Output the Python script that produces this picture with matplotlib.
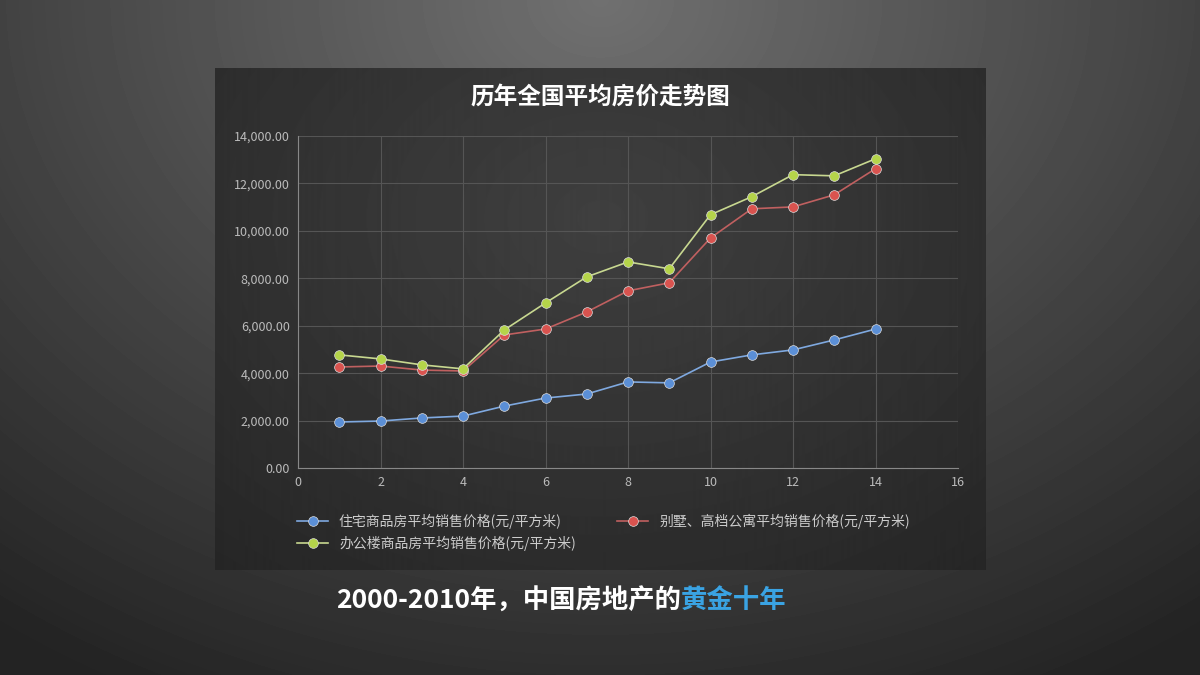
import numpy as np
import matplotlib
matplotlib.use("Agg")
import matplotlib.pyplot as plt
from matplotlib.ticker import FuncFormatter

plt.rcParams['font.family'] = ['Noto Sans CJK SC', 'DejaVu Sans']

x = list(range(1, 15))
residential = [1940, 1980, 2110, 2190, 2610, 2950, 3120, 3630, 3590, 4470, 4770, 4980, 5400, 5860]
villa = [4260, 4300, 4130, 4090, 5610, 5860, 6580, 7470, 7810, 9700, 10930, 11010, 11520, 12620]
office = [4770, 4600, 4350, 4180, 5820, 6960, 8060, 8690, 8400, 10680, 11440, 12370, 12320, 13040]
labels = ['住宅商品房平均销售价格(元/平方米)', '别墅、高档公寓平均销售价格(元/平方米)',
          '办公楼商品房平均销售价格(元/平方米)']

fig = plt.figure(figsize=(12, 6.75), dpi=100)

# page background: radial grey gradient
bg = fig.add_axes([0, 0, 1, 1])
yy, xx = np.mgrid[0:675, 0:1200]
d = np.sqrt(((xx - 600) / 900.0) ** 2 + ((yy - 0) / 700.0) ** 2)
bg.imshow(np.clip(0.44 - 0.27 * d, 0.14, 0.5), cmap='gray', vmin=0, vmax=1, aspect='auto')
bg.axis('off')

# chart panel
panel = fig.add_axes([215 / 1200, 105 / 675, 770 / 1200, 502 / 675])
py, px = np.mgrid[0:502, 0:770]
pd_ = np.sqrt(((px - 385) / 600.0) ** 2 + ((py - 150) / 450.0) ** 2)
panel.imshow(np.clip(0.25 - 0.1 * pd_, 0.13, 0.3), cmap='gray', vmin=0, vmax=1, aspect='auto')
panel.axis('off')

fig.text(0.5, 0.855, '历年全国平均房价走势图', ha='center', va='center', color='white',
         fontsize=17, fontweight='bold')

ax = fig.add_axes([298 / 1200, 207 / 675, 660 / 1200, 332 / 675])
ax.set_facecolor('none')
series = [(residential, '#5b8fd6', '#7fa9e0'), (villa, '#d9534f', '#c06060'), (office, '#b5d44a', '#c8d890')]
lines = []
for (vals, mc, lc), lab in zip(series, labels):
    ln, = ax.plot(x, vals, color=lc, lw=1.2, marker='o', ms=7, mfc=mc, mec='#dddddd', mew=0.5, label=lab)
    lines.append(ln)

ax.set_xlim(0, 16)
ax.set_ylim(0, 14000)
ax.set_xticks(range(0, 17, 2))
ax.set_yticks(range(0, 14001, 2000))
ax.yaxis.set_major_formatter(FuncFormatter(lambda v, p: f'{v:,.2f}'))
ax.grid(True, color='#555555', lw=0.8)
ax.set_axisbelow(True)
for s in ['top', 'right']:
    ax.spines[s].set_visible(False)
for s in ['left', 'bottom']:
    ax.spines[s].set_color('#888888')
ax.tick_params(colors='#bbbbbb', labelsize=9, length=0, pad=6)

order = [0, 2, 1]
ax.legend([lines[i] for i in order], [labels[i] for i in order],
          loc='upper left', bbox_to_anchor=(-0.02, -0.1), ncol=2, frameon=False,
          fontsize=10, labelcolor='#cccccc', columnspacing=3, handlelength=2.2)

t1 = fig.text(0.28, 0.11, '2000-2010年，中国房地产的', ha='left', va='center', color='white',
              fontsize=19, fontweight='bold')
fig.canvas.draw()
bb = t1.get_window_extent().transformed(fig.transFigure.inverted())
fig.text(bb.x1, 0.11, '黄金十年', ha='left', va='center', color='#3aa3e3',
         fontsize=19, fontweight='bold')

fig.savefig('out.png', dpi=100)
